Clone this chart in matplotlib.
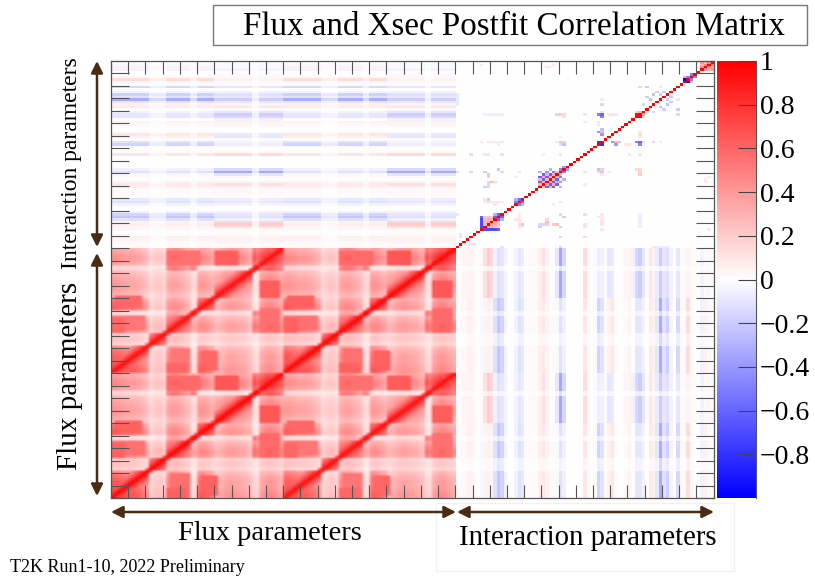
import numpy as np
import matplotlib
matplotlib.use("Agg")
import matplotlib.pyplot as plt
from matplotlib.colors import LinearSegmentedColormap
from matplotlib.patches import Rectangle

plt.rcParams["font.family"] = ["Liberation Serif", "DejaVu Serif"]

# The full matrix has 175x175 cells, too many to read one by one. It is rebuilt from
# values: block means, bin weights, row profiles, sparse pairs.
flux_block_sizes = [11, 5, 7, 2, 5, 11, 2, 7]
flux_block_corr = [
    [0.58, 0.20, 0.46, 0.14, 0.50, 0.32, 0.16, 0.34],
    [0.20, 0.48, 0.22, 0.10, 0.18, 0.18, 0.11, 0.18],
    [0.46, 0.22, 0.56, 0.34, 0.36, 0.30, 0.50, 0.46],
    [0.14, 0.10, 0.34, 0.65, 0.13, 0.15, 0.54, 0.38],
    [0.50, 0.18, 0.36, 0.13, 0.58, 0.32, 0.10, 0.36],
    [0.32, 0.18, 0.30, 0.15, 0.32, 0.40, 0.12, 0.38],
    [0.16, 0.11, 0.50, 0.54, 0.10, 0.12, 0.68, 0.58],
    [0.34, 0.18, 0.46, 0.38, 0.36, 0.38, 0.58, 0.60],
]
flux_bin_weight = [
    1.15, 1.15, 1.10, 1.05, 1.00, 1.00, 1.00, 0.95, 0.90, 0.80, 0.70,
    0.80, 1.00, 1.10, 1.10, 0.90,
    1.00, 1.10, 1.15, 1.10, 1.00, 0.90, 0.80,
    1.00, 0.90,
    1.10, 1.15, 1.10, 1.00, 0.90,
    0.85, 0.90, 1.00, 1.10, 1.15, 1.15, 1.10, 1.05, 1.00, 0.90, 0.80,
    1.00, 0.90,
    1.00, 1.10, 1.20, 1.20, 1.10, 1.00, 0.90,
]
flux_band_same_block = [1.0, 0.86, 0.72, 0.60, 0.50]
flux_band_across_block = [1.0, 0.72]
# stronger patches seen in the flux block: (bin from, bin to, bin from, bin to, correlation)
flux_patches = [
    (30, 36, 43, 48, 0.66),
    (16, 25, 43, 48, 0.58),
    (0, 3, 16, 21, 0.62),
    (1, 8, 26, 30, 0.62),
    (0, 9, 17, 22, 0.56),
]
flux_block_profile = [0, 0, 0, 0, 0, 1, 1, 1]
flux_block_response = [1.0, 0.45, 1.0, 0.45, 1.0, 1.0, 0.35, 1.0]

interaction_fhc = [
    0.01, 0.02, 0.03, 0.05, 0.06, 0.02, 0.00, -0.03, 0.04, 0.07,
    0.05, -0.12, -0.22, -0.17, -0.05, 0.00, 0.01, -0.05, -0.12, -0.09,
    -0.02, 0.02, 0.02, 0.02, 0.07, 0.09, 0.05, 0.01, 0.02, -0.03,
    -0.12, -0.06, 0.00, 0.00, 0.00, 0.00, 0.00, 0.10, 0.02, 0.00,
    -0.02, -0.17, -0.12, 0.02, 0.06, 0.10, 0.02, 0.00, 0.01, 0.03,
    0.05, 0.00, -0.10, -0.10, -0.05, 0.00, 0.08, 0.06, -0.10, -0.33,
    -0.12, -0.18, -0.04, 0.00, -0.15, -0.02, 0.03, 0.14, 0.03, 0.01,
    0.00, -0.05, 0.06, -0.03, 0.01,
]
interaction_rhc = [
    0.02, 0.02, 0.04, 0.05, 0.05, 0.02, 0.01, 0.03, 0.12, 0.20,
    0.16, -0.06, -0.12, -0.10, -0.04, 0.00, 0.01, -0.04, -0.10, -0.07,
    -0.01, 0.03, 0.03, 0.03, 0.06, 0.12, 0.05, 0.01, 0.02, -0.10,
    -0.35, -0.15, 0.00, 0.00, 0.00, 0.00, 0.00, 0.14, 0.03, 0.00,
    -0.02, -0.07, -0.05, -0.02, -0.10, -0.08, 0.00, 0.00, 0.02, 0.04,
    0.05, -0.05, -0.15, -0.20, -0.10, -0.02, 0.10, 0.05, -0.08, -0.20,
    -0.10, -0.12, -0.05, 0.00, -0.10, -0.02, 0.03, 0.05, 0.03, 0.02,
    0.00, -0.04, 0.03, -0.03, 0.02,
]
# interaction pairs (first, second, correlation)
interaction_pairs = [
    (7, 8, -0.7), (7, 9, -0.7), (7, 10, -0.7), (7, 11, -0.7), (7, 12, -0.6),
    (8, 9, 0.3), (8, 10, 0.3), (8, 11, 0.25), (8, 12, 0.2), (9, 10, 0.35),
    (9, 11, 0.3), (9, 12, 0.25), (10, 11, 0.3), (10, 12, 0.2), (11, 12, -0.6),
    (12, 13, -0.6), (11, 13, -0.3), (17, 18, -0.5), (18, 19, -0.55), (17, 19, -0.3),
    (24, 26, -0.6), (24, 28, -0.6), (24, 30, -0.3), (25, 27, -0.6), (25, 29, -0.6),
    (26, 28, -0.6), (26, 30, -0.4), (27, 29, -0.6), (27, 31, -0.3), (28, 30, -0.5),
    (24, 25, 0.3), (24, 27, 0.3), (25, 26, 0.3), (25, 28, 0.35), (26, 27, 0.3),
    (26, 29, 0.3), (27, 28, 0.3), (28, 29, 0.3), (29, 30, 0.25), (30, 31, -0.5),
    (31, 32, -0.4), (8, 24, -0.2), (9, 24, -0.15), (9, 26, 0.2), (10, 26, 0.25),
    (11, 26, 0.15), (8, 30, -0.2), (13, 30, -0.15), (12, 31, -0.2), (25, 9, -0.15),
    (28, 9, 0.2), (29, 9, 0.25), (8, 18, 0.1), (9, 18, 0.12), (10, 18, 0.1),
    (11, 18, 0.1), (12, 18, 0.1), (13, 18, 0.08), (9, 19, -0.2), (17, 11, 0.1),
    (18, 10, 0.1), (19, 8, 0.1), (17, 28, 0.08), (18, 30, -0.1), (8, 37, 0.1),
    (9, 37, -0.1), (13, 37, 0.15), (4, 37, 0.15), (25, 37, 0.08), (30, 37, -0.1),
    (30, 4, -0.15), (30, 0, -0.15), (13, 0, -0.1), (4, 1, -0.1), (5, 1, -0.1),
    (57, 0, -0.08), (58, 0, -0.08), (59, 0, -0.08), (60, 0, -0.08), (61, 0, -0.08),
    (7, 73, 0.1), (26, 72, 0.1), (27, 72, 0.08), (28, 73, 0.08),
    (29, 53, 0.2), (30, 53, 0.2), (30, 42, -0.2), (29, 42, 0.1), (8, 53, -0.07),
    (9, 53, -0.07), (10, 53, -0.07), (11, 53, -0.07), (12, 53, -0.07), (13, 53, -0.07),
    (7, 42, 0.1), (9, 42, 0.1), (10, 42, 0.1), (11, 42, 0.08), (12, 42, 0.08),
    (13, 42, 0.1), (37, 53, -0.1), (37, 50, 0.1), (41, 31, -0.25), (42, 31, 0.2),
    (52, 31, 0.15), (53, 31, 0.15), (55, 64, -0.2), (57, 42, -0.15), (59, 42, 0.1),
    (41, 42, -0.8), (41, 46, -0.4), (42, 46, 0.3), (41, 53, -0.5), (42, 54, 0.15),
    (42, 45, -0.4), (42, 47, -0.25), (42, 52, -0.5), (42, 53, -0.6),
    (41, 49, 0.1), (41, 50, 0.12), (44, 53, 0.1), (45, 53, 0.12), (46, 53, 0.1),
    (52, 53, 0.95), (53, 54, 0.3), (52, 54, 0.2), (54, 57, -0.15), (55, 60, -0.2),
    (56, 59, -0.25), (57, 61, -0.25), (58, 62, -0.2), (59, 61, -0.2), (60, 62, -0.2),
    (53, 64, -0.15), (66, 67, -1.0), (67, 68, -0.5), (68, 69, -0.5), (66, 68, 0.3),
    (71, 72, 0.45), (71, 73, 0.3), (72, 73, 0.5), (72, 74, 0.25), (73, 74, 0.5),
    (71, 74, 0.4), (12, 41, -0.08), (30, 41, -0.12), (30, 44, 0.08), (59, 64, -0.1),
]

colorbar_ticks = [-0.8, -0.6, -0.4, -0.2, 0, 0.2, 0.4, 0.6, 0.8, 1]
colorbar_labels = ["\u22120.8", "\u22120.6", "\u22120.4", "\u22120.2", "0", "0.2", "0.4", "0.6", "0.8", "1"]

n_flux = 100
n_half = 50
n_inter = len(interaction_fhc)
n_total = n_flux + n_inter

block_of_bin = np.repeat(np.arange(len(flux_block_sizes)), flux_block_sizes)

# one 50x50 pattern, repeated over the four flux quadrants
flux_half = np.zeros((n_half, n_half))
for a in range(n_half):
    for b in range(n_half):
        ba, bb = block_of_bin[a], block_of_bin[b]
        value = flux_block_corr[ba][bb] * flux_bin_weight[a] * flux_bin_weight[b]
        band = flux_band_same_block if ba == bb else flux_band_across_block
        if abs(a - b) < len(band):
            value = max(value, band[abs(a - b)])
        flux_half[a, b] = min(value, 1.0)
for a0, a1, b0, b1, corr in flux_patches:
    flux_half[a0:a1 + 1, b0:b1 + 1] = np.maximum(flux_half[a0:a1 + 1, b0:b1 + 1], corr)
    flux_half[b0:b1 + 1, a0:a1 + 1] = np.maximum(flux_half[b0:b1 + 1, a0:a1 + 1], corr)

matrix = np.zeros((n_total, n_total))
for i in range(n_flux):
    for j in range(n_flux):
        value = flux_half[i % n_half, j % n_half]
        if (i < n_half) != (j < n_half):
            value *= 0.96
        matrix[i, j] = value

for k in range(n_inter):
    for j in range(n_flux):
        block = block_of_bin[j % n_half]
        profile = interaction_rhc if flux_block_profile[block] else interaction_fhc
        value = profile[k] * flux_block_response[block]
        matrix[n_flux + k, j] = value
        matrix[j, n_flux + k] = value

for first, second, corr in interaction_pairs:
    matrix[n_flux + first, n_flux + second] = corr
    matrix[n_flux + second, n_flux + first] = corr
for i in range(n_total):
    matrix[i, i] = 1.0

W, H = 815, 580
fig = plt.figure(figsize=(W / 100, H / 100), dpi=100)


def px_axes(x0, y0, x1, y1):
    return fig.add_axes([x0 / W, 1 - y1 / H, (x1 - x0) / W, (y1 - y0) / H])


cmap = LinearSegmentedColormap.from_list("bwr_root", ["#0000ff", "#ffffff", "#ff0000"], N=256)
edge = "#555555"

ax = px_axes(111, 61, 713.5, 498)
# the reference is soft in the flux block and crisp along the interaction diagonal
ax.imshow(matrix, origin="lower", cmap=cmap, vmin=-1, vmax=1, aspect="auto",
          extent=[0, n_total, 0, n_total], interpolation="nearest")
ax.imshow(matrix[:n_flux, :n_flux], origin="lower", cmap=cmap, vmin=-1, vmax=1, aspect="auto",
          extent=[0, n_flux, 0, n_flux], interpolation="bilinear")
ax.set_xlim(0, n_total)
ax.set_ylim(0, n_total)
ax.set_xticks(np.arange(0, n_total + 1, 5))
ax.set_yticks(np.arange(0, n_total + 1, 5))
ax.set_xticklabels([])
ax.set_yticklabels([])
ax.tick_params(axis="x", direction="in", length=9.5, width=0.8, color=edge, top=True, bottom=True)
ax.tick_params(axis="y", direction="in", length=13, width=0.8, color=edge, left=True, right=True)
for spine in ax.spines.values():
    spine.set_color(edge)
    spine.set_linewidth(0.9)

cax = px_axes(717, 61, 755.7, 498)
bar = np.linspace(-1, 1, 256).reshape(-1, 1)
cax.imshow(bar, origin="lower", cmap=cmap, vmin=-1, vmax=1, aspect="auto", extent=[0, 1, -1, 1])
cax.set_xticks([])
cax.yaxis.tick_right()
cax.set_yticks(colorbar_ticks)
cax.set_yticklabels(colorbar_labels, fontsize=20)
cax.tick_params(axis="y", direction="in", length=13, width=0.8, color="#444444", pad=3)
for name, spine in cax.spines.items():
    spine.set_visible(name == "right")
    spine.set_color(edge)

# overlay in pixel coordinates for the title box, arrows and labels
over = fig.add_axes([0, 0, 1, 1], zorder=5)
over.set_xlim(0, W)
over.set_ylim(H, 0)
over.axis("off")
over.patch.set_alpha(0)

over.add_patch(Rectangle((212.5, 4.5), 594, 40, fill=False, edgecolor="#777777", linewidth=1))
over.text(514, 27, "Flux and Xsec Postfit Correlation Matrix", ha="center", va="center",
          fontsize=23.8, color="black")
over.add_patch(Rectangle((436, 503), 298, 68, fill=False, edgecolor="#f1f1f1", linewidth=1))

brown = "#4a2c14"
arrow_style = dict(arrowstyle="<|-|>,head_length=0.7,head_width=0.35", color=brown, lw=1.8,
                   shrinkA=0, shrinkB=0)
for start, end in [((111, 512), (456, 512)), ((457, 512), (714, 512)),
                   ((97, 61), (97, 247)), ((97, 253), (97, 496))]:
    over.annotate("", xy=end, xytext=start, arrowprops=arrow_style)

over.text(270, 534, "Flux parameters", ha="center", va="center", fontsize=20.4)
over.text(588, 538, "Interaction parameters", ha="center", va="center", fontsize=20.7)
over.text(10, 568, "T2K Run1-10, 2022 Preliminary", ha="left", va="center", fontsize=13)
over.text(71, 163, "Interaction parameters", rotation=90, ha="center", va="center", fontsize=17)
over.text(70, 376, "Flux parameters", rotation=90, ha="center", va="center", fontsize=21)

fig.savefig("out.png", dpi=100)
